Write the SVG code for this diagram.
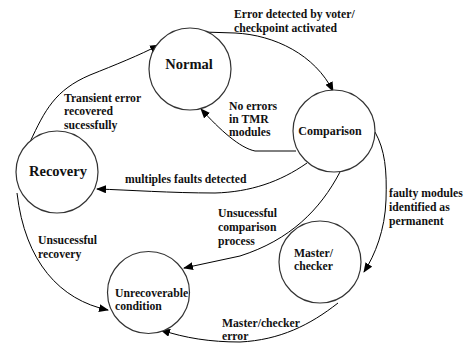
<svg xmlns="http://www.w3.org/2000/svg" width="471" height="345" viewBox="0 0 471 345">
<defs>
<marker id="arr" markerWidth="10" markerHeight="8" refX="9" refY="4" orient="auto" markerUnits="userSpaceOnUse">
<path d="M0,0 L10,4 L0,8 Z" fill="#000"/>
</marker>
<style>
.node circle{fill:#fff;stroke:#333;stroke-width:1.2}
.edge{fill:none;stroke:#000;stroke-width:1;marker-end:url(#arr)}
text{fill:#111;font-family:"Liberation Serif","Times New Roman",serif;font-weight:700}
.lbl{font-size:11.7px}
.nl{font-size:14.5px}
.ns{font-size:12px}
</style>
</defs>
<rect width="471" height="345" fill="#fff"/>
<g id="connectors">
<path class="edge" d="M203,32 L235,33 C275,35 315,55 333,91"/>
<path class="edge" d="M296,151 L255,151 C240,148 220,130 201,109"/>
<path class="edge" d="M30,142 C45,110 55,90 90,75 C115,65 140,55 159,45"/>
<path class="edge" d="M307,163 C280,182 250,192 215,193 C170,193 130,190 97,189"/>
<path class="edge" d="M340,172 C320,210 290,240 240,256 L184,268"/>
<path class="edge" d="M17,193 C25,262 60,300 108,310"/>
<path class="edge" d="M375,132 C385,150 387,170 386,200 C385,230 375,255 364,272"/>
<path class="edge" d="M338,303 C310,325 280,340 240,342 C210,342 185,338 161,330"/>
</g>
<g id="labels">
<text class="lbl" x="234" y="18">Error detected by voter/</text>
<text class="lbl" x="234" y="32">checkpoint activated</text>
<text class="lbl" x="229" y="110">No errors</text>
<text class="lbl" x="229" y="123">in TMR</text>
<text class="lbl" x="229" y="136">modules</text>
<text class="lbl" x="64" y="102">Transient error</text>
<text class="lbl" x="64" y="115">recovered</text>
<text class="lbl" x="64" y="129">sucessfully</text>
<text class="lbl" x="125" y="183">multiples faults detected</text>
<text class="lbl" x="218" y="217">Unsucessful</text>
<text class="lbl" x="218" y="231">comparison</text>
<text class="lbl" x="218" y="245">process</text>
<text class="lbl" x="38" y="244">Unsucessful</text>
<text class="lbl" x="38" y="258">recovery</text>
<text class="lbl" x="389" y="197">faulty modules</text>
<text class="lbl" x="389" y="211">identified as</text>
<text class="lbl" x="389" y="225">permanent</text>
<text class="lbl" x="222" y="327">Master/checker</text>
<text class="lbl" x="222" y="340">error</text>
</g>
<g id="normal" class="node"><circle cx="190" cy="69" r="41"/><text class="nl" x="189" y="69" text-anchor="middle">Normal</text></g>
<g id="comparison" class="node"><circle cx="334" cy="131" r="41"/><text class="ns" x="330" y="135" text-anchor="middle">Comparison</text></g>
<g id="recovery" class="node"><circle cx="57" cy="172" r="41"/><text class="nl" x="58" y="176" text-anchor="middle">Recovery</text></g>
<g id="masterchecker" class="node"><circle cx="320" cy="262" r="41"/><text class="lbl" x="294" y="257">Master/</text><text class="lbl" x="294" y="270">checker</text></g>
<g id="unrecoverable" class="node"><circle cx="148.5" cy="292.5" r="41"/><text class="lbl" x="115" y="297">Unrecoverable</text><text class="lbl" x="115" y="310">condition</text></g>
</svg>
